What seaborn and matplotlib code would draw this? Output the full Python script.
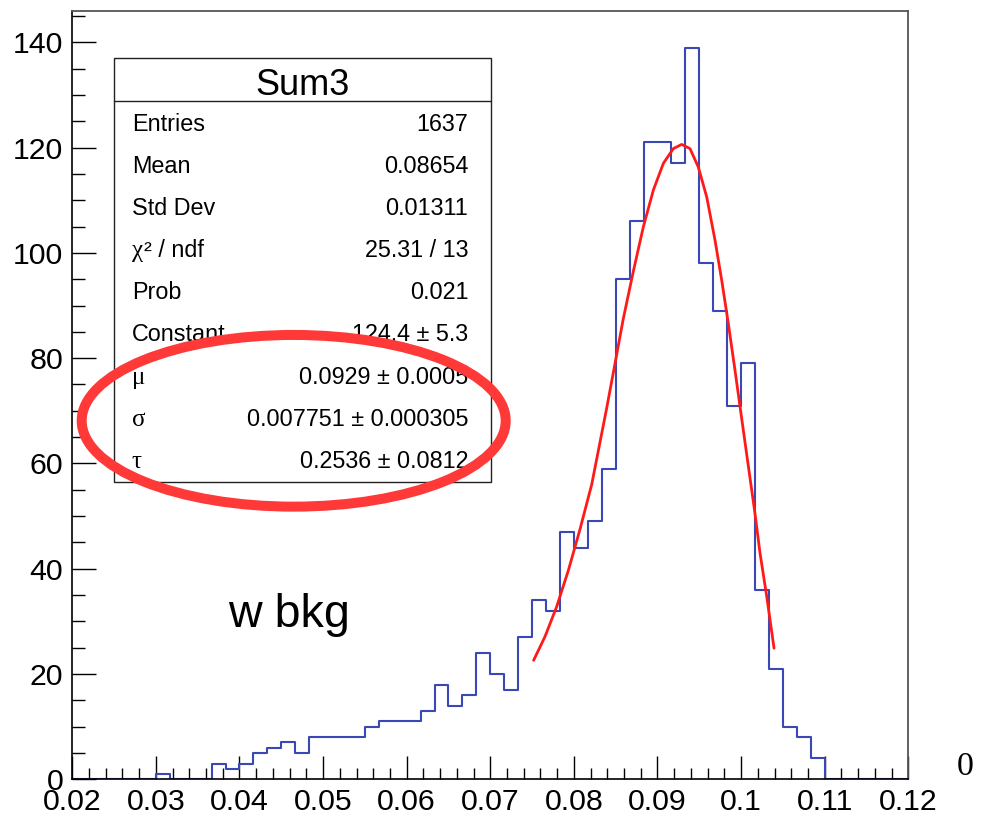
import numpy as np
import pandas as pd
import matplotlib
matplotlib.use("Agg")
import matplotlib.pyplot as plt
from matplotlib.patches import Ellipse, Rectangle
from matplotlib.ticker import MultipleLocator
import seaborn as sns

# ---------------- data ----------------
x_min, x_max, n_bins = 0.02, 0.12, 60
counts = [0, 0, 0, 0, 0, 0, 1, 0, 0, 0,
          3, 2, 3, 5, 6, 7, 5, 8, 8, 8,
          8, 10, 11, 11, 11, 13, 18, 14, 16, 24,
          20, 17, 27, 34, 32, 47, 44, 49, 59, 95,
          106, 121, 121, 117, 139, 98, 89, 71, 79, 36,
          21, 10, 8, 4, 0, 0, 0, 0, 0, 0]

fit_x = [0.07518, 0.07654, 0.07794, 0.07934, 0.08073, 0.08213, 0.08392, 0.08492,
         0.08591, 0.08711, 0.08830, 0.0895, 0.0907, 0.09189, 0.09289, 0.09389,
         0.09488, 0.09589, 0.09688, 0.09768, 0.09847, 0.09927, 0.09987, 0.10166,
         0.10226, 0.10306, 0.10394]
fit_y = [22.6, 27.1, 32.8, 39.7, 47.5, 56.0, 70.5, 79.0,
         87.5, 96.5, 104.9, 111.9, 117.0, 119.8, 120.6, 119.8,
         116.3, 110.6, 102.4, 94.8, 86.6, 77.7, 70.8, 50.5,
         43.0, 34.8, 24.9]

stat_title = "Sum3"
stat_labels = ["Entries", "Mean", "Std Dev", "χ", "Prob", "Constant", "μ", "σ", "τ"]
stat_values = ["1637", "0.08654", "0.01311", "25.31 / 13", "0.021",
               "124.4 ± 5.3", "0.0929 ± 0.0005", "0.007751 ± 0.000305",
               "0.2536 ± 0.0812"]
annotation = "w bkg"

x_ticks = [0.02, 0.03, 0.04, 0.05, 0.06, 0.07, 0.08, 0.09, 0.1, 0.11, 0.12]
x_tick_labels = ["0.02", "0.03", "0.04", "0.05", "0.06", "0.07", "0.08", "0.09", "0.1", "0.11", "0.12"]
y_ticks = [0, 20, 40, 60, 80, 100, 120, 140]

# ---------------- style ----------------
sns.set_style("white")
plt.rcParams['font.family'] = ['Liberation Sans', 'DejaVu Sans']
plt.rcParams['text.color'] = 'black'
plt.rcParams['xtick.color'] = 'black'
plt.rcParams['ytick.color'] = 'black'
plt.rcParams['axes.labelcolor'] = 'black'

W, H = 987, 816
fig = plt.figure(figsize=(W / 100, H / 100), dpi=100)

def fx(px):
    return px / W

def fy(py):
    return 1 - py / H

ax_l, ax_r, ax_t, ax_b = 72.3, 908.3, 10.7, 779.3
ax = fig.add_axes([fx(ax_l), fy(ax_b), fx(ax_r) - fx(ax_l), fy(ax_t) - fy(ax_b)])

edges = [x_min + i * (x_max - x_min) / n_bins for i in range(n_bins + 1)]
centers = [(edges[i] + edges[i + 1]) / 2 for i in range(n_bins)]
df = pd.DataFrame({"x": centers, "w": counts})

sns.histplot(data=df, x="x", weights="w", bins=edges, element="step", fill=False,
             color="#3a48b5", linewidth=1.5, ax=ax)

fit_df = pd.DataFrame({"x": fit_x, "y": fit_y})
sns.lineplot(data=fit_df, x="x", y="y", ax=ax, color="#ff1a1a", linewidth=2.0,
             estimator=None, sort=False)

ax.set_xlim(x_min, x_max)
ax.set_ylim(0, 146)
ax.set_xlabel("")
ax.set_ylabel("")
ax.set_xticks(x_ticks)
ax.set_xticklabels(x_tick_labels)
ax.set_yticks(y_ticks)
ax.xaxis.set_minor_locator(MultipleLocator(0.002))
ax.yaxis.set_minor_locator(MultipleLocator(5))
ax.tick_params(axis="x", which="major", direction="in", length=16.5, width=1.0,
               labelsize=21.8, pad=6, bottom=True, top=False, color="black",
               labelcolor="black")
ax.tick_params(axis="x", which="minor", direction="in", length=8, width=1.0,
               bottom=True, top=False, color="black")
ax.tick_params(axis="y", which="major", direction="in", length=17, width=1.0,
               labelsize=21.8, pad=6.5, left=True, right=False, color="black",
               labelcolor="black")
ax.tick_params(axis="y", which="minor", direction="in", length=9, width=1.0,
               left=True, right=False, color="black")
for s in ["left", "bottom"]:
    ax.spines[s].set_color("black")
    ax.spines[s].set_linewidth(1.2)
for s in ["top", "right"]:
    ax.spines[s].set_color("#555555")
    ax.spines[s].set_linewidth(1.3)

# ---------------- stats box ----------------
bx_l, bx_r, bx_t, bx_b, bx_sep = 114, 490.7, 58.3, 481.7, 100.7
box = Rectangle((fx(bx_l), fy(bx_b)), fx(bx_r) - fx(bx_l), fy(bx_t) - fy(bx_b),
                transform=fig.transFigure, facecolor="white", edgecolor="#222222",
                linewidth=1.0, zorder=5)
fig.patches.append(box)
fig.lines.append(plt.Line2D([fx(bx_l), fx(bx_r)], [fy(bx_sep), fy(bx_sep)],
                            transform=fig.transFigure, color="#222222", linewidth=1.0, zorder=6))
fig.text(fx((bx_l + bx_r) / 2), fy(95), stat_title, ha="center", va="baseline",
         fontsize=26, zorder=7, color="black")

row0, row_step = 131.0, 42.1
fs = 16.8
serif_labels = {"χ", "μ", "σ", "τ"}
for i, (lab, val) in enumerate(zip(stat_labels, stat_values)):
    yb = fy(row0 + i * row_step)
    if lab in serif_labels:
        fig.text(fx(131.7), yb, lab, ha="left", va="baseline", fontsize=18,
                 family=["Liberation Serif", "DejaVu Serif"], zorder=7, color="black")
        if lab == "χ":
            fig.text(fx(144), yb, "² / ndf", ha="left", va="baseline", fontsize=fs,
                     zorder=7, color="black")
    else:
        fig.text(fx(131.7), yb, lab, ha="left", va="baseline", fontsize=fs, zorder=7,
                 color="black")
    fig.text(fx(468.3), yb, val, ha="right", va="baseline", fontsize=fs, zorder=7,
             color="black")

# ---------------- annotations ----------------
fig.text(fx(228), fy(627), annotation, ha="left", va="baseline", fontsize=33.6, zorder=7,
         color="black")
fig.text(fx(965), fy(775), "0", ha="center", va="baseline", fontsize=24.5,
         family=["Liberation Serif", "DejaVu Serif"], color="black")

ell = Ellipse((fx(293.7), fy(420.8)), fx(424), 171.7 / H, transform=fig.transFigure,
              facecolor="none", edgecolor="#ff3838", linewidth=7.2, zorder=10)
fig.patches.append(ell)

fig.savefig("out.png", dpi=100, facecolor="white")
